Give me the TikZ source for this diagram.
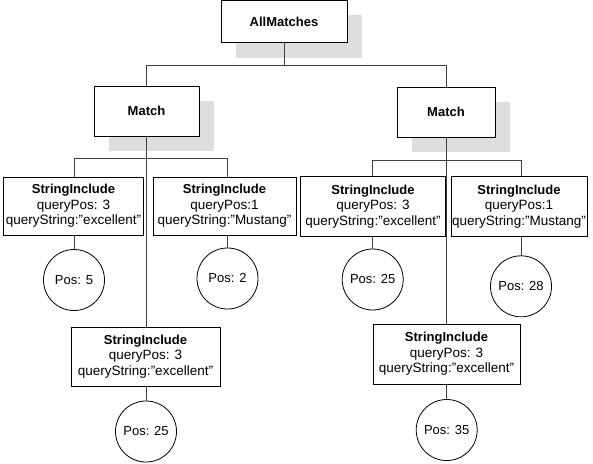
\documentclass[tikz,border=0pt]{standalone}
\usepackage{fontspec}
\setmainfont{Liberation Sans}
\usetikzlibrary{backgrounds}
\newcommand{\hd}[1]{{\fontsize{13}{15.5}\selectfont\textbf{#1}}}
\begin{document}
\begin{tikzpicture}[x=1pt,y=-1pt,
  box/.style={draw=black, line width=0.8pt, fill=white, inner sep=0pt, align=center,
              font=\fontsize{13.5}{15.5}\selectfont},
  posnode/.style={circle, draw=black, line width=0.8pt, fill=white, minimum size=61pt,
              inner sep=0pt, font=\fontsize{13}{15.5}\selectfont},
  conn/.style={draw=black!75, line width=0.9pt},
  shadowfill/.style={fill=black!13, draw=none}]
\useasboundingbox (0,0) rectangle (593,463);

% boxes
\node[box, minimum width=126pt, minimum height=42pt] (AM) at (284,21.5) {\hd{AllMatches}};
\node[box, minimum width=105pt, minimum height=50pt] (ML) at (146.5,111) {\hd{Match}};
\node[box, minimum width=98pt, minimum height=50pt] (MR) at (446,112) {\hd{Match}};

\node[box, minimum width=140pt, minimum height=58pt] (SI1) at (73.5,206) {\hd{StringInclude}\\queryPos: 3\\queryString:”excellent”};
\node[box, minimum width=143pt, minimum height=58pt] (SI2) at (224.5,206) {\hd{StringInclude}\\queryPos:1\\queryString:”Mustang”};
\node[box, minimum width=149pt, minimum height=59pt] (SI3) at (145.5,356.5) {\hd{StringInclude}\\queryPos: 3\\queryString:”excellent”};
\node[box, minimum width=145pt, minimum height=59.5pt] (SI4) at (373,206.3) {\hd{StringInclude}\\queryPos: 3\\queryString:”excellent”};
\node[box, minimum width=136pt, minimum height=59.5pt] (SI5) at (519,206.3) {\hd{StringInclude}\\queryPos:1\\queryString:”Mustang”};
\node[box, minimum width=147pt, minimum height=60pt] (SI6) at (446.5,354) {\hd{StringInclude}\\queryPos: 3\\queryString:”excellent”};

% result circles
\node[posnode] (P5) at (74,280) {Pos: 5};
\node[posnode] (P2) at (227.5,278.5) {Pos: 2};
\node[posnode] (PL25) at (146,431.5) {Pos: 25};
\node[posnode] (PR25) at (372.7,279.5) {Pos: 25};
\node[posnode] (P28) at (521,286.3) {Pos: 28};
\node[posnode] (P35) at (446.7,430) {Pos: 35};

% shadows
\begin{scope}[on background layer]
  \foreach \n in {AM,ML,MR}
    \fill[shadowfill] ([shift={(15pt,-15pt)}]\n.south west) rectangle ([shift={(15pt,-15pt)}]\n.north east);
\end{scope}

% bar levels
\coordinate (b0) at (0,65);
\coordinate (bL) at (0,158.5);
\coordinate (bR) at (0,160);

% connectors
\draw[conn] (AM.south) -- (AM.south |- b0) -| (ML.north);
\draw[conn] (AM.south |- b0) -| (MR.north);

\draw[conn] (ML.south) -- (ML.south |- bL) -| (P5.north |- SI1.north);
\draw[conn] (ML.south |- bL) -| (P2.north |- SI2.north);
\draw[conn] (ML.south |- bL) -- (ML.south |- SI3.north);

\draw[conn] (MR.south) -- (MR.south |- bR) -| (PR25.north |- SI4.north);
\draw[conn] (MR.south |- bR) -| (P28.north |- SI5.north);
\draw[conn] (MR.south |- bR) -- (MR.south |- SI6.north);

\draw[conn] (P5.north |- SI1.south) -- (P5.north);
\draw[conn] (P2.north |- SI2.south) -- (P2.north);
\draw[conn] (PL25.north |- SI3.south) -- (PL25.north);
\draw[conn] (PR25.north |- SI4.south) -- (PR25.north);
\draw[conn] (P28.north |- SI5.south) -- (P28.north);
\draw[conn] (P35.north |- SI6.south) -- (P35.north);
\end{tikzpicture}
\end{document}
